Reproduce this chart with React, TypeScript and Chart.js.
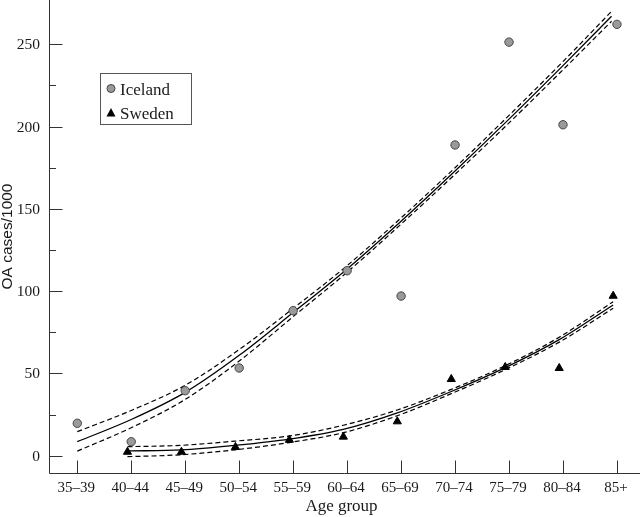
import React, { useEffect, useRef } from "react";
import { Chart, registerables } from "chart.js";

Chart.register(...registerables);

// ---- data ----
const categories = ["35–39", "40–44", "45–49", "50–54", "55–59", "60–64", "65–69", "70–74", "75–79", "80–84", "85+"];

const icelandCases = [19.7, 8.5, 39.5, 53.3, 88.1, 112.4, 97.0, 188.8, 251.3, 201.1, 262.1];
const swedenCases = [null, 2.3, 2.3, 5.2, 9.6, 11.5, 20.8, 46.5, 53.8, 53.2, 97.1];

// fitted curves (category index position, value)
const icelandFitX = [0, 1, 2, 3, 4, 5, 6, 7, 8, 9, 9.9];
const icelandFit = [8.5, 22, 38.5, 61, 87, 113.5, 142.5, 173, 204.5, 237, 267];
const icelandUpper = [14.6, 27.5, 42.8, 64.5, 89.5, 115.5, 144.5, 175, 206.8, 239.5, 270];
const icelandLower = [2.8, 17, 34.2, 57.5, 84.5, 111.5, 140.7, 171, 202.2, 234.5, 264];

const swedenFitX = [1, 2, 3, 4, 5, 6, 7, 8, 9, 10];
const swedenFit = [2.9, 3.5, 6.3, 10.1, 16, 26, 39, 53.5, 70.5, 91.6];
const swedenUpper = [5.5, 6.3, 8.9, 12, 18.5, 27.8, 40.3, 54.7, 72, 93.6];
const swedenLower = [-0.6, 0.6, 3.6, 8, 14, 24.3, 37.7, 52.3, 69, 89.6];

const yTickValues = [0, 50, 100, 150, 200, 250];
const yMinorTickValues = [25, 75, 125, 175, 225];

const xTitle = "Age group";
const yTitle = "OA cases/1000";
const legendLabels = ["Iceland", "Sweden"];

// ---- styles ----
const SWEDEN_DODGE = -0.07;
const AXIS_COLOR = "#333";
const TEXT_COLOR = "#1a1a1a";
const SERIF = "'Liberation Serif', 'Times New Roman', serif";
const SANS = "'Liberation Sans', Arial, sans-serif";

const toPts = (xs: number[], ys: (number | null)[], dx = 0) =>
  xs.map((x, i) => ({ x: x + dx, y: ys[i] })).filter((p) => p.y !== null);

const decorPlugin = {
  id: "decor",
  afterDraw(chart: any) {
    const { ctx, chartArea, scales } = chart;
    const xs = scales.x;
    const ys = scales.y;
    const left = chartArea.left + 0.5;
    const bottom = chartArea.bottom + 0.5;
    ctx.save();
    ctx.strokeStyle = AXIS_COLOR;
    ctx.lineWidth = 1;
    ctx.beginPath();
    ctx.moveTo(left, chartArea.top);
    ctx.lineTo(left, bottom);
    ctx.lineTo(chartArea.right, bottom);
    yTickValues.forEach((v) => {
      const py = Math.round(ys.getPixelForValue(v)) + 0.5;
      ctx.moveTo(left, py);
      ctx.lineTo(left + 13, py);
    });
    yMinorTickValues.forEach((v) => {
      const py = Math.round(ys.getPixelForValue(v)) + 0.5;
      ctx.moveTo(left, py);
      ctx.lineTo(left + 6.5, py);
    });
    categories.forEach((_, i) => {
      const px = Math.round(xs.getPixelForValue(i)) + 0.5;
      ctx.moveTo(px, bottom);
      ctx.lineTo(px, bottom - 13);
    });
    ctx.stroke();

    // tick labels
    ctx.fillStyle = TEXT_COLOR;
    ctx.font = `15px ${SERIF}`;
    ctx.textAlign = "center";
    ctx.textBaseline = "middle";
    categories.forEach((c, i) => {
      ctx.fillText(c, xs.getPixelForValue(i) - 1, chartArea.bottom + 15);
    });
    ctx.font = `15.5px ${SERIF}`;
    ctx.textAlign = "right";
    yTickValues.forEach((v) => {
      ctx.fillText(String(v), chartArea.left - 9, ys.getPixelForValue(v) + 1);
    });

    // axis titles
    ctx.font = `17px ${SERIF}`;
    ctx.textAlign = "center";
    ctx.fillText(xTitle, (chartArea.left + chartArea.right) / 2 - 3, chartArea.bottom + 34);
    ctx.save();
    ctx.translate(8, (chartArea.top + chartArea.bottom) / 2);
    ctx.rotate(-Math.PI / 2);
    ctx.font = `15.5px ${SANS}`;
    ctx.fillText(yTitle, 0, 0);
    ctx.restore();

    // legend
    const lx = 100.5, ly = 73.5, lw = 91, lh = 51;
    ctx.strokeStyle = "#555";
    ctx.strokeRect(lx, ly, lw, lh);
    ctx.font = `17px ${SERIF}`;
    ctx.fillStyle = TEXT_COLOR;
    ctx.textBaseline = "alphabetic";
    ctx.textAlign = "left";
    ctx.fillText(legendLabels[0], 120, 94.5);
    ctx.fillText(legendLabels[1], 120, 118.5);
    ctx.beginPath();
    ctx.arc(111, 88.5, 4, 0, Math.PI * 2);
    ctx.fillStyle = "#9a9a9a";
    ctx.fill();
    ctx.strokeStyle = "#444";
    ctx.lineWidth = 1;
    ctx.stroke();
    ctx.beginPath();
    ctx.moveTo(111, 108);
    ctx.lineTo(115.5, 116.5);
    ctx.lineTo(106.5, 116.5);
    ctx.closePath();
    ctx.fillStyle = "#000";
    ctx.fill();
    ctx.restore();
  },
};

export default function App() {
  const canvasRef = useRef<HTMLCanvasElement | null>(null);

  useEffect(() => {
    if (!canvasRef.current) return;
    const solid = { borderColor: "#000", borderWidth: 1.3, pointRadius: 0, showLine: true, fill: false, cubicInterpolationMode: "monotone" as const };
    const dashed = { ...solid, borderWidth: 1.2, borderDash: [5, 3] };

    const chart = new Chart(canvasRef.current, {
      type: "scatter",
      data: {
        datasets: [
          {
            label: legendLabels[0],
            data: toPts(categories.map((_, i) => i), icelandCases),
            pointStyle: "circle",
            pointRadius: 4.2,
            backgroundColor: "#9a9a9a",
            borderColor: "#444",
            borderWidth: 1,
          },
          {
            label: legendLabels[1],
            data: toPts(categories.map((_, i) => i), swedenCases, SWEDEN_DODGE),
            pointStyle: "triangle",
            pointRadius: 4.7,
            backgroundColor: "#000",
            borderColor: "#000",
            borderWidth: 1,
          },
          { label: "Iceland fit", data: toPts(icelandFitX, icelandFit), ...solid },
          { label: "Iceland upper", data: toPts(icelandFitX, icelandUpper), ...dashed },
          { label: "Iceland lower", data: toPts(icelandFitX, icelandLower), ...dashed },
          { label: "Sweden fit", data: toPts(swedenFitX, swedenFit, SWEDEN_DODGE), ...solid },
          { label: "Sweden upper", data: toPts(swedenFitX, swedenUpper, SWEDEN_DODGE), ...dashed },
          { label: "Sweden lower", data: toPts(swedenFitX, swedenLower, SWEDEN_DODGE), ...dashed },
        ] as any,
      },
      options: {
        animation: false,
        responsive: true,
        maintainAspectRatio: false,
        layout: { autoPadding: false, padding: { left: 49, bottom: 44, top: 0, right: 0 } },
        plugins: { legend: { display: false }, tooltip: { enabled: false } },
        scales: {
          x: { type: "linear", display: false, min: -0.524, max: 10.427 },
          y: { type: "linear", display: false, min: -10.51, max: 276.9 },
        },
      },
      plugins: [decorPlugin],
    });
    return () => chart.destroy();
  }, []);

  return (
    <div style={{ position: "absolute", left: 0, top: 0, width: 640, height: 517, background: "#fff" }}>
      <canvas ref={canvasRef} />
    </div>
  );
}
